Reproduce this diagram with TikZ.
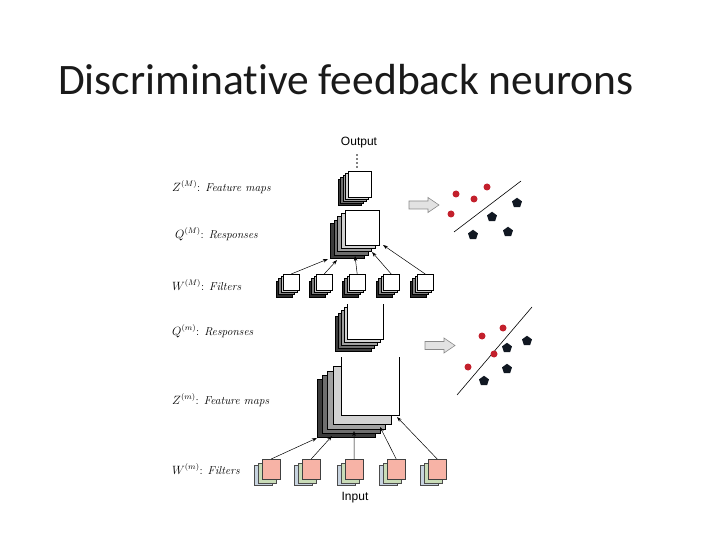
\documentclass[tikz,border=0pt]{standalone}
\usepackage{fontspec}
\newfontfamily\titlefont[Ligatures=NoCommon]{Carlito}
\newfontfamily\labsans{Liberation Sans}
\usetikzlibrary{shapes.geometric,arrows.meta}
\definecolor{ga}{HTML}{D2D2D2}
\definecolor{gb}{HTML}{A0A0A0}
\definecolor{gc}{HTML}{6E6E6E}
\definecolor{gd}{HTML}{3C3C3C}
\definecolor{fa}{HTML}{C8C8C8}
\definecolor{fb}{HTML}{808080}
\definecolor{fc}{HTML}{2C2C2C}
\definecolor{pinkf}{HTML}{F7B3A6}
\definecolor{greenf}{HTML}{C9DCB8}
\definecolor{bluef}{HTML}{C7D3DF}
\definecolor{dotred}{HTML}{C3202C}
\definecolor{pentblack}{HTML}{111822}
\definecolor{arrfill}{HTML}{E2E2E2}
\definecolor{arrline}{HTML}{8A8A8A}
\definecolor{titlecol}{HTML}{1A1A1A}
\begin{document}
\begin{tikzpicture}[x=1pt,y=-1pt,
  lay/.style={draw=black,line width=0.4pt},
  sq/.style={inner sep=0pt,anchor=north west,fill=white},
  conn/.style={draw=black,line width=0.5pt,-{Stealth[length=5pt,width=3.5pt]}},
  lbl/.style={anchor=west,inner sep=0pt,font=\fontsize{11.5}{13}\selectfont},
  io/.style={inner sep=0pt,font=\labsans\fontsize{12}{13}\selectfont},
  rdot/.style={circle,fill=dotred,inner sep=0pt,minimum size=7pt},
  pent/.style={regular polygon,regular polygon sides=5,fill=pentblack,inner sep=0pt,minimum size=10.5pt},
  blk/.style={draw=arrline,fill=arrfill,line width=0.6pt},
  sepline/.style={draw=black,line width=0.6pt}
  ]
\useasboundingbox (0,0) rectangle (720,540);

% title
\node[anchor=base west,inner sep=0pt,text=titlecol,font=\titlefont\fontsize{43.5}{50}\selectfont] (title) at (58,95) {Discriminative feedback neurons};

% labels
\node[lbl] (lzM) at (172,187) {$Z^{(M)}$: \textit{Feature maps}};
\node[lbl] (lqM) at (175,234) {$Q^{(M)}$: \textit{Responses}};
\node[lbl] (lwM) at (172,285) {$W^{(M)}$: \textit{Filters}};
\node[lbl] (lqm) at (172,331) {$Q^{(m)}$: \textit{Responses}};
\node[lbl] (lzm) at (172,400) {$Z^{(m)}$: \textit{Feature maps}};
\node[lbl] (lwm) at (172,469) {$W^{(m)}$: \textit{Filters}};

\node[io] (out) at (359,143) {Output};
\node[io] (in) at (355,498) {Input};
\foreach \yy in {155,159,163,167} \fill (357,\yy) circle (0.8);

% Z(M) stack
\foreach \k/\c in {4/gd,3/gc,2/gb,1/ga}
  \draw[lay,fill=\c] ({348-2.5*\k},{171+2*\k}) rectangle ++(23,26);
\node[sq,draw,line width=0.4pt,minimum width=23pt,minimum height=26pt] (zM) at (348,171) {};

% Q(M) stack
\foreach \k/\c in {4/gd,3/gc,2/gb,1/ga}
  \draw[lay,fill=\c] ({345-3.7*\k},{210+3.3*\k}) rectangle ++(34,35);
\node[sq,draw,line width=0.4pt,minimum width=34pt,minimum height=35pt] (qM) at (345,210) {};

% W(M) filters
\foreach \i/\xx in {1/283,2/316,3/349,4/383,5/417}{
  \foreach \k/\c in {3/fc,2/fb,1/fa}
    \draw[lay,fill=\c] ({\xx-2.3*\k},{274+2.3*\k}) rectangle ++(16,16);
  \node[sq,draw,line width=0.4pt,minimum width=16pt,minimum height=16pt] (wM\i) at (\xx,274) {};
}

% Q(m) stack (front open at the top)
\foreach \k/\c in {4/gd,3/gc,2/gb,1/ga}
  \draw[lay,fill=\c] ({347-3*\k},{304+3*\k}) rectangle ++(36,35);
\node[sq,minimum width=36pt,minimum height=35pt] (qm) at (347,304) {};
\draw[lay] (qm.north west) -- (qm.south west) -- (qm.south east) -- (qm.north east);

% Z(m) stack (front open at the top)
\foreach \dx/\dy/\c in {24/22/gd,19/18/gc,14/14/gb,8/9/ga}
  \draw[lay,fill=\c] ({341-\dx},{357+\dy}) rectangle ++(58,58);
\node[sq,minimum width=58pt,minimum height=58pt] (zm) at (341,357) {};
\draw[lay] (zm.north west) -- (zm.south west) -- (zm.south east) -- (zm.north east);

% W(m) filters
\foreach \i/\xx in {1/262,2/302,3/345,4/387,5/428}{
  \draw[draw=black!70,line width=0.4pt,fill=bluef] ({\xx-8},{459+6}) rectangle ++(18,20);
  \draw[draw=black!70,line width=0.4pt,fill=greenf] ({\xx-4},{459+4}) rectangle ++(18,20);
  \node[sq,draw=black!75,fill=pinkf,line width=0.4pt,minimum width=18pt,minimum height=20pt] (wm\i) at (\xx,459) {};
}

% arrow tips
\coordinate (tq1) at (328,259);
\coordinate (tq2) at (337,260);
\coordinate (tq3) at (355,256);
\coordinate (tq4) at (372,252);
\coordinate (tq5) at (383,245);
\coordinate (tz1) at (317,438);
\coordinate (tz2) at (332,436);
\coordinate (tz3) at (354,431);
\coordinate (tz4) at (380,427);
\coordinate (tz5) at (397,417);
\foreach \i in {1,...,5}{
  \draw[conn] (wM\i.north) -- (tq\i);
  \draw[conn] (wm\i.north) -- (tz\i);
}

% block arrows
\draw[blk] (409,201) -- (428,201) -- (428,197.5) -- (439,205) -- (428,212.5) -- (428,209) -- (409,209) -- cycle;
\draw[blk] (425,341.5) -- (444,341.5) -- (444,338) -- (455,345.5) -- (444,353) -- (444,349.5) -- (425,349.5) -- cycle;

% scatter 1
\coordinate (s1a) at (454,232);
\coordinate (s1b) at (521,181);
\draw[sepline] (s1a) -- (s1b);
\node[rdot] (r11) at (456,194) {};
\node[rdot] (r12) at (487,187) {};
\node[rdot] (r13) at (474,199) {};
\node[rdot] (r14) at (451,214) {};
\node[pent] (p11) at (517,203) {};
\node[pent] (p12) at (492,217) {};
\node[pent] (p13) at (473,235) {};
\node[pent] (p14) at (508,232) {};

% scatter 2
\coordinate (s2a) at (457,395);
\coordinate (s2b) at (532,307);
\draw[sepline] (s2a) -- (s2b);
\node[rdot] (r21) at (482,336) {};
\node[rdot] (r22) at (503,328) {};
\node[rdot] (r23) at (494,354) {};
\node[rdot] (r24) at (468,367) {};
\node[pent] (p21) at (527,341) {};
\node[pent] (p22) at (507,348) {};
\node[pent] (p23) at (507,369) {};
\node[pent] (p24) at (484,381) {};
\end{tikzpicture}
\end{document}
